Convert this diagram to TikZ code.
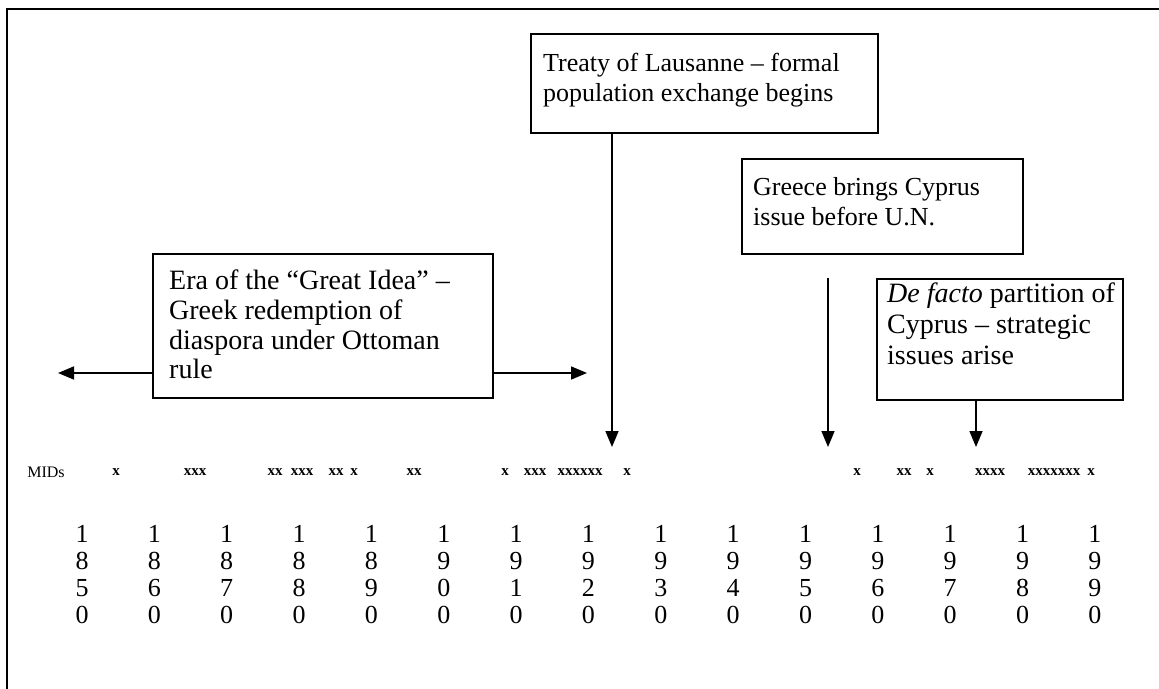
\documentclass[tikz,border=0pt]{standalone}
\usepackage{fontspec}
\setmainfont{Liberation Serif}
\usetikzlibrary{arrows.meta}
\begin{document}
\begin{tikzpicture}[x=1pt,y=-1pt,
  frame/.style={line width=2.6pt},
  evbox/.style={draw, line width=1.8pt, inner sep=0pt},
  boxtext/.style={anchor=base west, inner sep=0pt, font=\fontsize{26}{30}\selectfont},
  bigtext/.style={boxtext, font=\fontsize{28}{31}\selectfont},
  pointer/.style={line width=1.6pt, -{Triangle[length=16pt,width=13pt]}},
  mids/.style={anchor=base, inner sep=0pt, font=\fontsize{15}{15}\selectfont\bfseries},
  midlabel/.style={anchor=base, inner sep=0pt, font=\fontsize{16}{16}\selectfont},
  digit/.style={anchor=base, inner sep=0pt, font=\fontsize{26}{30}\selectfont}
]
\useasboundingbox (0,0) rectangle (1159,688);

% outer frame (runs off the page on the right and at the bottom)
\draw[frame] (7,720) -- (7,9) -- (1190,9);

% event boxes
\node[evbox, minimum width=347pt, minimum height=99pt, anchor=north west] (lausanne) at (530,33) {};
\node[boxtext] (lau1) at (543,71) {Treaty of Lausanne -- formal};
\node[boxtext] (lau2) at (543,101) {population exchange begins};

\node[evbox, minimum width=281pt, minimum height=95pt, anchor=north west] (greece) at (741,158) {};
\node[boxtext] (gre1) at (753,195) {Greece brings Cyprus};
\node[boxtext] (gre2) at (753,225) {issue before U.N.};

\node[evbox, minimum width=340pt, minimum height=144pt, anchor=north west] (era) at (152,253) {};
\node[bigtext] (era1) at (169,289) {Era of the “Great Idea” --};
\node[bigtext] (era2) at (169,319) {Greek redemption of};
\node[bigtext] (era3) at (169,349) {diaspora under Ottoman};
\node[bigtext] (era4) at (169,378) {rule};

\node[evbox, minimum width=246pt, minimum height=121pt, anchor=north west] (defacto) at (876,278) {};
\node[bigtext] (def1) at (887,302) {\textit{De facto} partition of};
\node[bigtext] (def2) at (887,333) {Cyprus -- strategic};
\node[bigtext] (def3) at (887,364) {issues arise};

% arrow end points
\coordinate (lauTip) at (612,447);
\coordinate (greTop) at (828,278);
\coordinate (greTip) at (828,447);
\coordinate (defTip) at (976,447);
\coordinate (eraLeft) at (58,373);
\coordinate (eraRight) at (587,373);

\draw[pointer] (lausanne.south -| lauTip) -- (lauTip);
\draw[pointer] (greTop) -- (greTip);
\draw[pointer] (defacto.south -| defTip) -- (defTip);
\draw[pointer] (era.west |- eraLeft) -- (eraLeft);
\draw[pointer] (era.east |- eraRight) -- (eraRight);

% MIDs row
\node[midlabel] (midsLabel) at (46,477) {MIDs};
\foreach \px/\marks [count=\k] in {116/x,195/xxx,275/xx,302/xxx,336/xx,354/x,414/xx,
    505/x,535/xxx,580/xxxxxx,627/x,857/x,904/xx,930/x,990/xxxx,1054/xxxxxxx,1091/x}
  \node[mids] (mid\k) at (\px,475) {\marks};

% decade columns, one digit per line
\foreach \b/\c [count=\i from 0] in {8/5,8/6,8/7,8/8,8/9,9/0,9/1,9/2,9/3,9/4,9/5,9/6,9/7,9/8,9/9} {
  \node[digit] (yr\i a) at ({82+72.35*\i},542) {1};
  \node[digit] (yr\i b) at ({82+72.35*\i},569) {\b};
  \node[digit] (yr\i c) at ({82+72.35*\i},596) {\c};
  \node[digit] (yr\i d) at ({82+72.35*\i},623) {0};
}
\end{tikzpicture}
\end{document}
